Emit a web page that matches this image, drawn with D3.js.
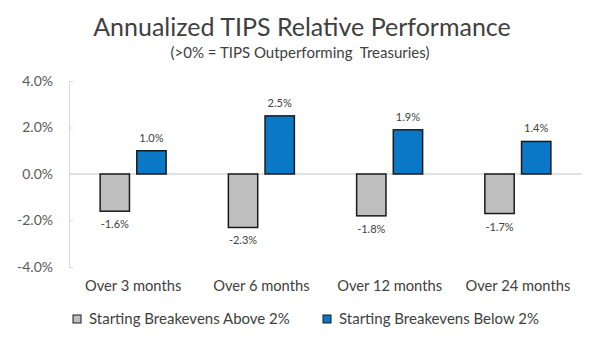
<!DOCTYPE html>
<html>
<head>
<meta charset="utf-8">
<script src="https://cdn.jsdelivr.net/npm/d3@7"></script>
<style>
  body { margin: 0; background: #fff; }
  text { font-family: Lato, "Open Sans", sans-serif; }
</style>
</head>
<body>
<div id="chart"></div>
<script>
var categories = ["Over 3 months", "Over 6 months", "Over 12 months", "Over 24 months"];
var seriesNames = ["Starting Breakevens Above 2%", "Starting Breakevens Below 2%"];
var aboveValues = [-1.6, -2.3, -1.8, -1.7];
var belowValues = [1.0, 2.5, 1.9, 1.4];
var yTicks = [-4, -2, 0, 2, 4];
var colors = ["#bfbfbf", "#0a78c6"];

var width = 605, height = 341;

var svg = d3.select("#chart").append("svg")
  .attr("width", width)
  .attr("height", height);

// title
svg.append("text")
  .attr("x", 302)
  .attr("y", 36)
  .attr("text-anchor", "middle")
  .style("font-size", "25px")
  .attr("fill", "#404040")
  .text("Annualized TIPS Relative Performance");

svg.append("text")
  .attr("x", 300)
  .attr("y", 58)
  .attr("text-anchor", "middle")
  .style("font-size", "15px")
  .style("white-space", "pre")
  .attr("fill", "#404040")
  .text("(>0% = TIPS Outperforming  Treasuries)");

var x = d3.scaleBand()
  .domain(categories)
  .range([69, 582]);

var x1 = d3.scaleBand()
  .domain([0, 1])
  .range([x.bandwidth() / 2 - 33, x.bandwidth() / 2 + 33])
  .paddingInner(0.2);

var y = d3.scaleLinear()
  .domain([-4, 4])
  .range([267, 81]);

// y axis, ticks point inward
var yAxis = d3.axisLeft(y)
  .tickValues(yTicks)
  .tickSize(-4)
  .tickPadding(16)
  .tickFormat(function(d){ return d.toFixed(1) + "%"; });

var yg = svg.append("g")
  .attr("transform", "translate(69,0)")
  .call(yAxis);
yg.select(".domain").attr("stroke", "#d9d9d9");
yg.selectAll(".tick line").attr("stroke", "#d9d9d9");
yg.selectAll(".tick text")
  .style("font-size", "14px")
  .style("font-family", "Lato, sans-serif")
  .attr("fill", "#595959");

// zero line
svg.append("line")
  .attr("x1", 69)
  .attr("x2", 582)
  .attr("y1", y(0))
  .attr("y2", y(0))
  .attr("stroke", "#d9d9d9")
  .attr("stroke-width", 1.5);

var rows = categories.map(function(c, i){
  return {cat: c, vals: [aboveValues[i], belowValues[i]]};
});

var groups = svg.selectAll(".grp")
  .data(rows)
  .enter()
  .append("g")
  .attr("transform", function(d){ return "translate(" + x(d.cat) + ",0)"; });

var bars = groups.selectAll("rect")
  .data(function(d){ return d.vals.map(function(v, j){ return {v: v, j: j}; }); })
  .enter();

bars.append("rect")
  .attr("x", function(d){ return x1(d.j); })
  .attr("width", x1.bandwidth())
  .attr("y", function(d){ return y(Math.max(0, d.v)); })
  .attr("height", function(d){ return Math.abs(y(d.v) - y(0)); })
  .attr("fill", function(d){ return colors[d.j]; })
  .attr("stroke", "#1a1a1a")
  .attr("stroke-width", 1.5);

bars.append("text")
  .attr("x", function(d){ return x1(d.j) + x1.bandwidth() / 2; })
  .attr("y", function(d){ return d.v >= 0 ? y(d.v) - 9 : y(d.v) + 17; })
  .attr("text-anchor", "middle")
  .style("font-size", "11px")
  .attr("fill", "#404040")
  .text(function(d){ return d.v.toFixed(1) + "%"; });

// category labels
svg.selectAll(".cat")
  .data(categories)
  .enter()
  .append("text")
  .attr("class", "cat")
  .attr("x", function(d){ return x(d) + x.bandwidth() / 2; })
  .attr("y", 291)
  .attr("text-anchor", "middle")
  .style("font-size", "14.7px")
  .attr("fill", "#404040")
  .text(function(d){ return d; });

// legend
var legendX = [73, 323];
var leg = svg.selectAll(".leg")
  .data(seriesNames)
  .enter()
  .append("g")
  .attr("transform", function(d, i){ return "translate(" + legendX[i] + ",315)"; });

leg.append("rect")
  .attr("width", 8)
  .attr("height", 8)
  .attr("fill", function(d, i){ return colors[i]; })
  .attr("stroke", "#1a1a1a")
  .attr("stroke-width", 1);

leg.append("text")
  .attr("x", 16)
  .attr("y", 9)
  .style("font-size", "15px")
  .attr("fill", "#404040")
  .text(function(d){ return d; });
</script>
</body>
</html>
